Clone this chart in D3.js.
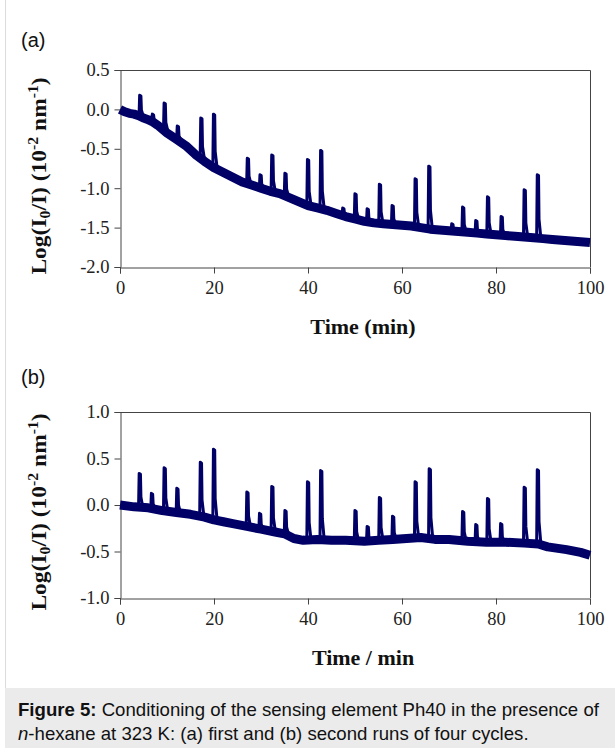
<!DOCTYPE html>
<html>
<head>
<meta charset="utf-8">
<script src="https://cdn.jsdelivr.net/npm/d3@7"></script>
<style>
  html, body { margin: 0; padding: 0; background: #fff; }
  svg { display: block; }
</style>
</head>
<body>
<svg id="chart" width="615" height="748"></svg>
<script>
// ---------------- DATA ----------------
const xTicks = [0, 20, 40, 60, 80, 100];
const yTicksA = [0.5, 0.0, -0.5, -1.0, -1.5, -2.0];
const yTicksB = [1.0, 0.5, 0.0, -0.5, -1.0];

// Panel (a): baseline drift (time in min, Log(I0/I))
const baseTimeA = [0, 1, 2, 3, 4, 5, 6, 7, 8, 10, 12, 14, 16, 18, 20, 22, 24, 26, 28, 30, 32, 34, 36, 38, 40, 42, 44, 46, 48, 50, 52, 54, 56, 58, 60, 62, 64, 66, 68, 70, 72, 74, 76, 78, 80, 82, 84, 86, 88, 90, 92, 94, 96, 98, 100];
const baseValA  = [0.0, -0.03, -0.05, -0.06, -0.08, -0.11, -0.13, -0.16, -0.2, -0.3, -0.38, -0.46, -0.57, -0.66, -0.74, -0.8, -0.86, -0.92, -0.96, -1.0, -1.04, -1.07, -1.12, -1.17, -1.22, -1.25, -1.28, -1.32, -1.36, -1.39, -1.42, -1.44, -1.45, -1.46, -1.47, -1.48, -1.5, -1.52, -1.53, -1.54, -1.55, -1.56, -1.57, -1.58, -1.59, -1.6, -1.61, -1.62, -1.63, -1.64, -1.65, -1.66, -1.67, -1.68, -1.69];
// Panel (a): injection peaks
const peakTimeA = [4.2, 6.9, 9.4, 12.2, 17.2, 19.9, 27.1, 29.8, 32.3, 35.1, 39.9, 42.7, 47.4, 50.0, 52.6, 55.2, 57.9, 62.8, 65.7, 70.6, 72.9, 75.7, 78.2, 81.1, 86.0, 88.8];
const peakValA  = [0.18, -0.06, 0.08, -0.21, -0.11, -0.06, -0.62, -0.83, -0.58, -0.81, -0.635, -0.52, -1.25, -1.07, -1.26, -0.95, -1.22, -0.88, -0.72, -1.45, -1.24, -1.41, -1.11, -1.36, -1.02, -0.83];

// Panel (b): baseline drift
const baseTimeB = [0, 3, 6, 9, 12, 15, 18, 20, 22, 24, 27, 30, 33, 35, 37, 39, 42, 45, 48, 52, 55, 58, 61, 64, 67, 70, 74, 78, 82, 86, 89, 91, 95, 98, 100];
const baseValB  = [0.0, -0.02, -0.03, -0.06, -0.08, -0.1, -0.13, -0.16, -0.18, -0.2, -0.23, -0.26, -0.29, -0.31, -0.36, -0.38, -0.37, -0.38, -0.38, -0.39, -0.38, -0.37, -0.36, -0.35, -0.37, -0.37, -0.39, -0.4, -0.4, -0.41, -0.42, -0.45, -0.48, -0.51, -0.54];
// Panel (b): injection peaks
const peakTimeB = [4.1, 6.7, 9.4, 12.1, 17.1, 19.9, 27.0, 29.7, 32.3, 35.1, 39.9, 42.7, 50.0, 52.6, 55.2, 58.0, 62.8, 65.8, 72.9, 75.7, 78.2, 81.0, 86.0, 88.8];
const peakValB  = [0.34, 0.125, 0.40, 0.18, 0.46, 0.60, 0.14, -0.09, 0.20, -0.06, 0.25, 0.37, -0.06, -0.23, 0.08, -0.12, 0.25, 0.39, -0.07, -0.21, 0.07, -0.2, 0.19, 0.38];

// ---------------- DRAWING ----------------
const svg = d3.select("#chart");
const LINE = "#000066";
const AXIS = "#444";
const TXT = "#222";
const SERIF = "'Liberation Serif', 'Times New Roman', serif";
const SANS = "'Liberation Sans', Arial, sans-serif";

// page frame and caption panel
svg.append("line").attr("x1", 5.5).attr("x2", 5.5).attr("y1", 0).attr("y2", 688)
  .attr("stroke", "#dcdcdc").attr("stroke-width", 1);
svg.append("rect").attr("x", 5).attr("y", 688).attr("width", 610).attr("height", 60)
  .attr("fill", "#ebebeb");

function panel(cfg) {
  const x = d3.scaleLinear().domain([0, 100]).range([120, 590]);
  const y = d3.scaleLinear().domain(cfg.yDomain).range([cfg.bottom, cfg.top]);
  const g = svg.append("g");

  // frame (top and right)
  g.append("path")
    .attr("d", `M${x(0)},${cfg.top + 0.5}H${x(100) + 0.5}V${cfg.bottom}`)
    .attr("fill", "none").attr("stroke", AXIS).attr("stroke-width", 1);

  const yAxis = d3.axisLeft(y).tickValues(cfg.yTicks).tickSize(6).tickPadding(5)
    .tickFormat(d => d.toFixed(1));
  const xAxis = d3.axisBottom(x).tickValues(xTicks).tickSize(6).tickPadding(7)
    .tickFormat(d => String(d));

  const ya = g.append("g").attr("transform", `translate(${x(0) + 0.5},0)`).call(yAxis);
  const xa = g.append("g").attr("transform", `translate(0,${cfg.bottom + 0.5})`).call(xAxis);
  [ya, xa].forEach(a => {
    a.select(".domain").attr("stroke", AXIS);
    a.selectAll(".tick line").attr("stroke", AXIS);
    a.selectAll(".tick text").attr("fill", TXT).style("font-family", SERIF).style("font-size", "18.5px");
  });

  // baseline band (noisy trace drawn thick)
  const base = cfg.bt.map((t, i) => [t, cfg.bv[i]]);
  const line = d3.line().x(d => x(d[0])).y(d => y(d[1]));
  const interp = t => {
    const i = d3.bisectRight(cfg.bt, t);
    if (i <= 0) return cfg.bv[0];
    if (i >= cfg.bt.length) return cfg.bv[cfg.bv.length - 1];
    const t0 = cfg.bt[i - 1], t1 = cfg.bt[i];
    return cfg.bv[i - 1] + (cfg.bv[i] - cfg.bv[i - 1]) * (t - t0) / (t1 - t0);
  };
  g.append("path").datum(base).attr("d", line)
    .attr("fill", "none").attr("stroke", LINE).attr("stroke-width", 9)
    .attr("stroke-linejoin", "round");

  // peaks
  cfg.pt.forEach((t, i) => {
    const b = interp(t), p = cfg.pv[i];
    const pts = [[t - 0.15, b], [t - 0.02, p], [t + 0.25, p - 0.01], [t + 0.35, b + (p - b) * 0.3], [t + 0.75, b]];
    g.append("path").datum(pts).attr("d", line)
      .attr("fill", "none").attr("stroke", LINE).attr("stroke-width", 3)
      .attr("stroke-linejoin", "round");
  });

  // labels
  g.append("text").attr("x", 21).attr("y", cfg.tagY).text(cfg.tag)
    .style("font-family", SANS).style("font-size", "20px").attr("fill", "#111");

  g.append("text").attr("transform", `translate(363,${cfg.xTitleY}) scale(1.1,1)`)
    .attr("text-anchor", "middle")
    .style("font-family", SERIF).style("font-size", "20px").style("font-weight", "bold")
    .attr("fill", "#111").text(cfg.xTitle);

  const yt = g.append("text")
    .attr("transform", `translate(46,${cfg.yTitleY}) rotate(-90) scale(1.12,1)`)
    .attr("text-anchor", "middle")
    .style("font-family", SERIF).style("font-size", "21px").style("font-weight", "bold")
    .attr("fill", "#111");
  yt.append("tspan").text("Log(I");
  yt.append("tspan").attr("dy", 4).style("font-size", "14px").text("0");
  yt.append("tspan").attr("dy", -4).text("/I) (10");
  yt.append("tspan").attr("dy", -8).style("font-size", "14px").text("-2");
  yt.append("tspan").attr("dy", 8).text(" nm");
  yt.append("tspan").attr("dy", -8).style("font-size", "14px").text("-1");
  yt.append("tspan").attr("dy", 8).text(")");
}

panel({
  tag: "(a)", tagY: 47, top: 70, bottom: 267, yDomain: [-2, 0.5], yTicks: yTicksA,
  bt: baseTimeA, bv: baseValA, pt: peakTimeA, pv: peakValA,
  xTitle: "Time (min)", xTitleY: 334, yTitleY: 176
});
panel({
  tag: "(b)", tagY: 384, top: 412, bottom: 598, yDomain: [-1, 1], yTicks: yTicksB,
  bt: baseTimeB, bv: baseValB, pt: peakTimeB, pv: peakValB,
  xTitle: "Time / min", xTitleY: 665, yTitleY: 512
});

// caption
const cap = svg.append("text").attr("x", 18).attr("y", 716)
  .style("font-family", SANS).style("font-size", "18.6px").attr("fill", "#111");
cap.append("tspan").style("font-weight", "bold").text("Figure 5:");
cap.append("tspan").text(" Conditioning of the sensing element Ph40 in the presence of");
const cap2 = svg.append("text").attr("x", 18).attr("y", 740)
  .style("font-family", SANS).style("font-size", "18.6px").attr("fill", "#111");
cap2.append("tspan").style("font-style", "italic").text("n");
cap2.append("tspan").text("-hexane at 323 K: (a) first and (b) second runs of four cycles.");
</script>
</body>
</html>
